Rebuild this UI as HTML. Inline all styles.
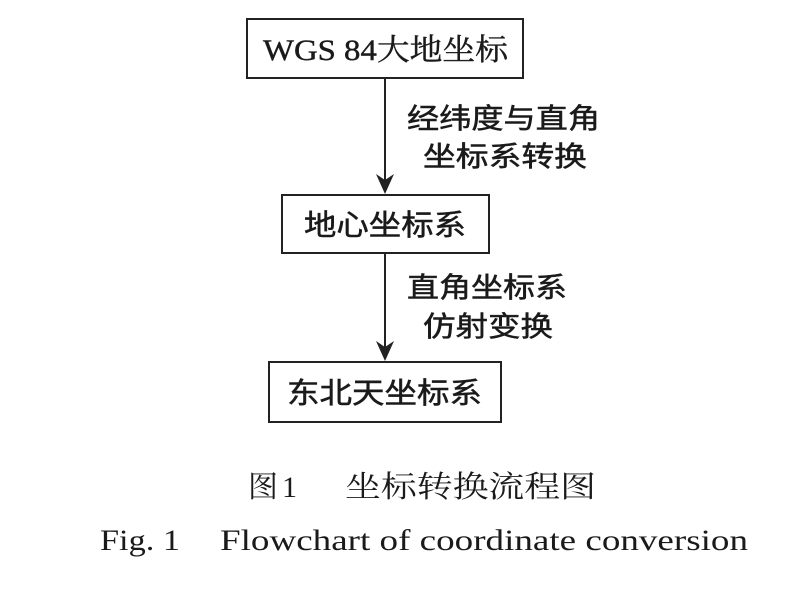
<!DOCTYPE html>
<html><head><meta charset="utf-8"><style>
html,body{margin:0;padding:0;background:#fff;}
svg{display:block}
text{fill:#1a1a1a}
.s{font-family:"Liberation Serif","Noto Serif CJK SC",serif}
.h{font-family:"Liberation Sans","Noto Sans CJK SC",sans-serif;stroke:#1a1a1a;stroke-width:0.5}
.c{font-family:"Liberation Serif","Noto Serif CJK SC",serif}
</style></head><body>
<svg width="812" height="592" viewBox="0 0 812 592" xmlns="http://www.w3.org/2000/svg">
<g fill="none" stroke="#222" stroke-width="2">
<rect x="247" y="19" width="276" height="59"/>
<rect x="282" y="195" width="207" height="58"/>
<rect x="269" y="362" width="232" height="60"/>
</g>
<g stroke="#222" stroke-width="2">
<line x1="385" y1="78" x2="385" y2="180"/>
<line x1="385" y1="253" x2="385" y2="347"/>
</g>
<path d="M376,174 L385,194 L394,174 L385,180 Z" fill="#222"/>
<path d="M376,341 L385,361 L394,341 L385,347 Z" fill="#222"/>
<text class="s" x="263" y="60" font-size="30" textLength="245" lengthAdjust="spacingAndGlyphs" stroke="#1a1a1a" stroke-width="0.4">WGS 84大地坐标</text>
<text class="h" x="304" y="235" font-size="29" textLength="162" lengthAdjust="spacingAndGlyphs">地心坐标系</text>
<text class="h" x="287" y="403" font-size="29" textLength="195" lengthAdjust="spacingAndGlyphs">东北天坐标系</text>
<text class="h" x="407" y="128" font-size="28" textLength="193" lengthAdjust="spacingAndGlyphs">经纬度与直角</text>
<text class="h" x="423" y="166" font-size="28" textLength="164" lengthAdjust="spacingAndGlyphs">坐标系转换</text>
<text class="h" x="407" y="297" font-size="28" textLength="160" lengthAdjust="spacingAndGlyphs">直角坐标系</text>
<text class="h" x="423" y="336" font-size="28" textLength="130" lengthAdjust="spacingAndGlyphs">仿射变换</text>
<text class="c" x="248" y="497" font-size="30">图</text>
<text class="c" x="282" y="497" font-size="30">1</text>
<text class="c" x="345" y="497" font-size="30" textLength="251" lengthAdjust="spacingAndGlyphs">坐标转换流程图</text>
<text class="s" x="100" y="550" font-size="30" textLength="80" lengthAdjust="spacingAndGlyphs">Fig. 1</text>
<text class="s" x="220" y="550" font-size="30" textLength="528" lengthAdjust="spacingAndGlyphs">Flowchart of coordinate conversion</text>
</svg>
</body></html>
